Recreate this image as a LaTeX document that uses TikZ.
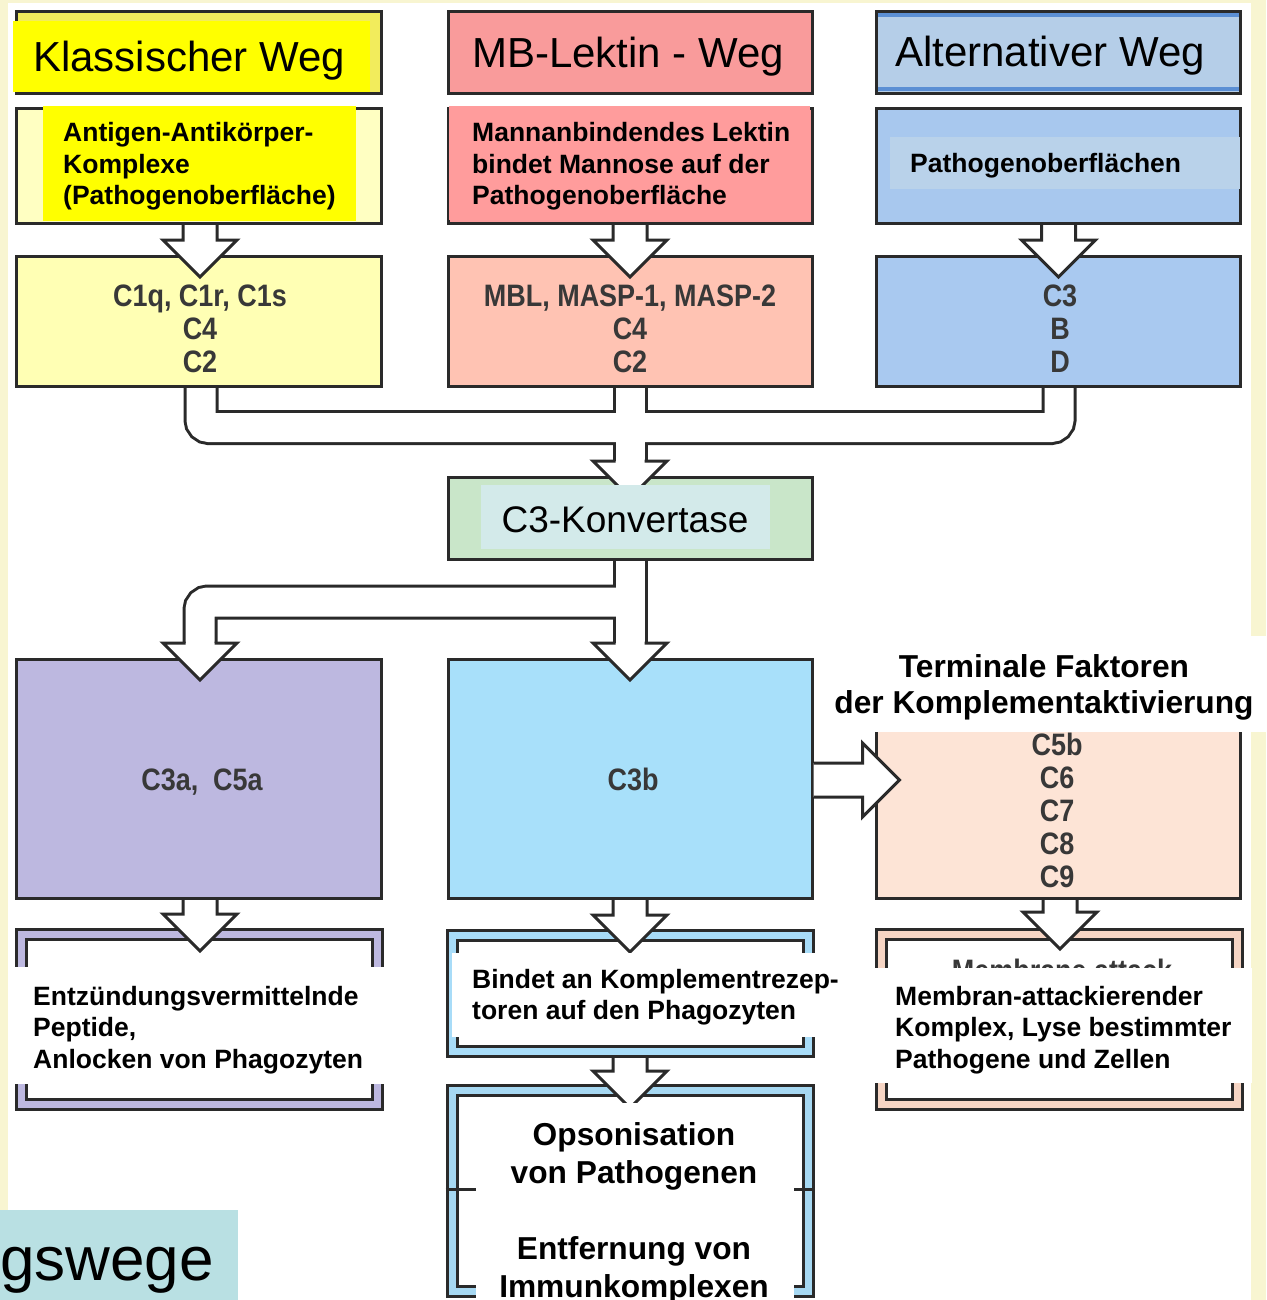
\documentclass[tikz,border=0pt]{standalone}
\usepackage{fontspec}
\setmainfont{Liberation Sans}
\newfontfamily\condf[FakeStretch=0.87]{Liberation Sans}
\usetikzlibrary{calc}
\definecolor{bd}{HTML}{2A2A2A}
\definecolor{cCream}{HTML}{F8F5D1}
\definecolor{cTeal}{HTML}{B9E0E3}
\definecolor{cYt}{HTML}{F2EC5C}
\definecolor{cYel}{HTML}{FFFF00}
\definecolor{cYpale}{HTML}{FFFFC2}
\definecolor{cYbox}{HTML}{FFFFB4}
\definecolor{cRt}{HTML}{F99B9B}
\definecolor{cRa}{HTML}{FA9B9B}
\definecolor{cRo}{HTML}{FF9C9C}
\definecolor{cRc}{HTML}{FFC3B3}
\definecolor{cBt}{HTML}{B5CEE8}
\definecolor{cBs}{HTML}{5B8FD4}
\definecolor{cBa}{HTML}{A8C8EE}
\definecolor{cBo}{HTML}{B9D2EA}
\definecolor{cBc}{HTML}{A9C9F0}
\definecolor{cGk}{HTML}{C9E6C9}
\definecolor{cGo}{HTML}{D3EAEA}
\definecolor{cPu}{HTML}{BDB8E0}
\definecolor{cSky}{HTML}{A8E0FA}
\definecolor{cPe}{HTML}{FDE4D6}
\definecolor{cPeB}{HTML}{F6D5C4}
\definecolor{cSkyB}{HTML}{A8DCF8}
\definecolor{cOpB}{HTML}{A6D8F2}
\definecolor{cTxt}{HTML}{383838}
\newcommand\myL[1]{\hbox{#1}}
\newcommand\myC[1]{\hbox to 0pt{\hss#1\hss}}
\tikzset{
  box/.style={draw=bd, line width=3pt, rectangle, inner sep=0pt, outer sep=0pt},
  dbox/.style={draw=bd, line width=3pt, double=#1, double distance=7pt, fill=white, rectangle, inner sep=0pt, outer sep=0pt},
  patch/.style={rectangle, inner sep=0pt, outer sep=0pt, draw=none},
  ttl/.style={font=\fontsize{42}{50}\selectfont, inner sep=0pt, anchor=base west},
  body/.style={font=\fontsize{26.5}{31.5}\selectfont\bfseries, inner sep=0pt, anchor=base west},
  cnd/.style={font=\condf\bfseries\fontsize{31}{33}\selectfont, text=cTxt, inner sep=0pt, anchor=base},
  big/.style={font=\fontsize{31.7}{38}\selectfont\bfseries, inner sep=0pt, anchor=base},
  pipeline/.style={draw=bd, line width=3pt, line join=miter},
  pipeout/.style={draw=bd, line width=35pt, rounded corners=8pt},
  pipein/.style={draw=white, line width=29pt, rounded corners=8pt},
  pics/dnarrow/.style={code={
    \fill[white] (-17,0) -- (-17,#1-37) -- (-37,#1-37) -- (0,#1) -- (37,#1-37) -- (17,#1-37) -- (17,0) -- cycle;
    \draw[pipeline] (-17,0) -- (-17,#1-37) -- (-37,#1-37) -- (0,#1) -- (37,#1-37) -- (17,#1-37) -- (17,0);}},
  pics/rtarrow/.style={code={
    \fill[white] (0,-17) -- (#1-37,-17) -- (#1-37,-37) -- (#1,0) -- (#1-37,37) -- (#1-37,17) -- (0,17) -- cycle;
    \draw[pipeline] (0,-17) -- (#1-37,-17) -- (#1-37,-37) -- (#1,0) -- (#1-37,37) -- (#1-37,17) -- (0,17);}},
  pics/dhead/.style={code={
    \fill[white] (-37,0) -- (0,37) -- (37,0) -- cycle;
    \draw[pipeline] (-14.5,0) -- (-37,0) -- (0,37) -- (37,0) -- (14.5,0);}}
}
\begin{document}
\begin{tikzpicture}[x=1pt,y=-1pt]
\useasboundingbox (0,0) rectangle (1266,1300);
% background
\fill[cCream] (0,0) rectangle (1266,1300);
\fill[white] (8,3) rectangle (1251,1300);
\fill[cTeal] (0,1210) rectangle (238,1300);
\node[anchor=base east, font=\fontsize{62}{70}\selectfont, inner sep=0pt] (gsw) at (214,1280) {gswege};

% row 1
\node[box, fill=cYt, minimum width=365pt, minimum height=82pt] (kt) at (199,52.5) {};
\node[box, fill=cRt, minimum width=364pt, minimum height=82pt] (mt) at (630,52.5) {};
\node[box, fill=cBt, minimum width=364pt, minimum height=82pt] (at) at (1058.5,52.5) {};
\fill[cBs] (878,13) rectangle (1239,17);
\fill[cBs] (878,87) rectangle (1239,91);
% row 2
\node[box, fill=cYpale, minimum width=365pt, minimum height=115pt] (ka) at (199,166) {};
\node[box, fill=cRa, minimum width=364pt, minimum height=115pt] (ma) at (630,166) {};
\node[box, fill=cBa, minimum width=364pt, minimum height=115pt] (aa) at (1058.5,166) {};
% row 3
\node[box, fill=cYbox, minimum width=365pt, minimum height=130pt] (kc) at (199,321.5) {};
\node[box, fill=cRc, minimum width=364pt, minimum height=130pt] (mc) at (630,321.5) {};
\node[box, fill=cBc, minimum width=364pt, minimum height=130pt] (ac) at (1058.5,321.5) {};
% konvertase
\node[box, fill=cGk, minimum width=364pt, minimum height=82pt] (kv) at (630,518.5) {};
% row 4
\node[box, fill=cPu, minimum width=365pt, minimum height=239pt] (pc) at (199,779) {};
\node[box, fill=cSky, minimum width=364pt, minimum height=239pt] (bc) at (630,779) {};
\node[box, fill=cPe, minimum width=364pt, minimum height=239pt] (tc) at (1058.5,779) {};
% row 5
\node[dbox=cPu, minimum width=356pt, minimum height=170pt] (po) at (199,1019) {};
\node[dbox=cSkyB, minimum width=356pt, minimum height=116.5pt] (bo) at (630,993.25) {};
\node[dbox=cOpB, minimum width=356.5pt, minimum height=201pt] (oo) at (630.25,1190.5) {};
\node[dbox=cPeB, minimum width=356.5pt, minimum height=170pt] (mo) at (1059.25,1019) {};
\draw[bd, line width=3pt] (445.5,1189) -- (815,1189);

% overlays on top boxes
\node[patch, fill=cYel, minimum width=357pt, minimum height=71pt] (kto) at (191.5,56.5) {};
\node[patch, fill=cYel, minimum width=313pt, minimum height=115pt] (kao) at (199.5,163.5) {};
\node[patch, fill=cRo, minimum width=361pt, minimum height=114pt] (mao) at (629.5,163) {};
\node[patch, fill=cBo, minimum width=350pt, minimum height=52pt] (aao) at (1065,163) {};

% connectors: merge into C3-Konvertase
\coordinate (kcS) at ($(kc.south)+(2,1.5)$);
\coordinate (mcS) at ($(mc.south)+(0,1.5)$);
\coordinate (acS) at ($(ac.south)+(0.5,1.5)$);
\coordinate (j1) at (630,427.5);
\coordinate (kvN) at (630,461);
\draw[pipeout] (kcS) |- (j1);
\draw[pipeout] (acS) |- (j1);
\draw[pipeout] (mcS) -- (kvN);
\draw[pipein] (kcS) |- (j1);
\draw[pipein] (acS) |- (j1);
\draw[pipein] (mcS) -- (kvN);
\pic at (kvN) {dhead};
% split from C3-Konvertase
\coordinate (kvS) at ($(kv.south)+(0,1.5)$);
\coordinate (j2) at (630,602);
\coordinate (lh) at (200,643);
\coordinate (rh) at (630,643);
\draw[pipeout] (j2) -| (lh);
\draw[pipeout] (kvS) -- (rh);
\draw[pipein] (j2) -| (lh);
\draw[pipein] (kvS) -- (rh);
\pic at (lh) {dhead};
\pic at (rh) {dhead};
% simple arrows
\pic at ($(ka.south)+(1,1.5)$) {dnarrow=52};
\pic at ($(ma.south)+(0,1.5)$) {dnarrow=52};
\pic at ($(aa.south)+(0,1.5)$) {dnarrow=52};
\pic at ($(pc.south)+(1,1.5)$) {dnarrow=51};
\pic at ($(bc.south)+(0,1.5)$) {dnarrow=52};
\pic at ($(bo.south)+(0,6.5)$) {dnarrow=50};
\pic at ($(tc.south)+(1.5,1.5)$) {dnarrow=49};
\pic at ($(bc.east)+(1.5,1)$) {rtarrow=86};

% overlays lower
\node[patch, fill=cGo, minimum width=289pt, minimum height=64pt] (kvo) at (625.5,517) {};
\node[patch, fill=white, minimum width=444pt, minimum height=96pt] (tco) at (1044,684) {};
\node[cnd] (maT2) at (1062,981) {Membrane attack};
\node[patch, fill=white, minimum width=381pt, minimum height=117pt] (poo) at (202.5,1025.5) {};
\node[patch, fill=white, minimum width=388pt, minimum height=84pt] (boo) at (646,995) {};
\node[patch, fill=white, minimum width=318pt, minimum height=197pt] (ooo) at (635,1201.5) {};
\node[patch, fill=white, minimum width=378pt, minimum height=115pt] (moo) at (1063,1025.5) {};

% texts
\node[ttl] (ktT) at (33,72) {Klassischer Weg};
\node[ttl] (mtT) at (472,68) {MB-Lektin - Weg};
\node[ttl] (atT) at (895,67) {Alternativer Weg};
\node[body] (kaT) at (63,142) {\vtop{\myL{Antigen-Antikörper-}\myL{Komplexe}\myL{(Pathogenoberfläche)}}};
\node[body] (maT) at (472,142) {\vtop{\myL{Mannanbindendes Lektin}\myL{bindet Mannose auf der}\myL{Pathogenoberfläche}}};
\node[body] (aaT) at (910,173) {Pathogenoberflächen};
\node[cnd] (kcT) at (200,306) {\vtop{\myC{C1q, C1r, C1s}\myC{C4}\myC{C2}}};
\node[cnd] (mcT) at (630,306) {\vtop{\myC{MBL, MASP-1, MASP-2}\myC{C4}\myC{C2}}};
\node[cnd] (acT) at (1060,306) {\vtop{\myC{C3}\myC{B}\myC{D}}};
\node[font=\fontsize{37}{44}\selectfont, inner sep=0pt, anchor=base] (kvT) at (625,532) {C3-Konvertase};
\node[cnd] (pcT) at (202,790) {C3a,\ \ C5a};
\node[cnd] (bcT) at (633,790) {C3b};
\node[cnd] (tcT) at (1057,755) {\vtop{\myC{C5b}\myC{C6}\myC{C7}\myC{C8}\myC{C9}}};
\node[big, font=\fontsize{31.7}{36}\selectfont\bfseries] (tT) at (1044,677) {\vtop{\myC{Terminale Faktoren}\myC{der Komplementaktivierung}}};
\node[body] (poT) at (33,1005) {\vtop{\myL{Entzündungsvermittelnde}\myL{Peptide,}\myL{Anlocken von Phagozyten}}};
\node[body] (boT) at (472,988) {\vtop{\myL{Bindet an Komplementrezep-}\myL{toren auf den Phagozyten}}};
\node[body] (moT) at (895,1005) {\vtop{\myL{Membran-attackierender}\myL{Komplex, Lyse bestimmter}\myL{Pathogene und Zellen}}};
\node[big] (ooT) at (634,1145) {\vtop{\myC{Opsonisation}\myC{von Pathogenen}\myC{}\myC{Entfernung von}\myC{Immunkomplexen}}};
\end{tikzpicture}
\end{document}
